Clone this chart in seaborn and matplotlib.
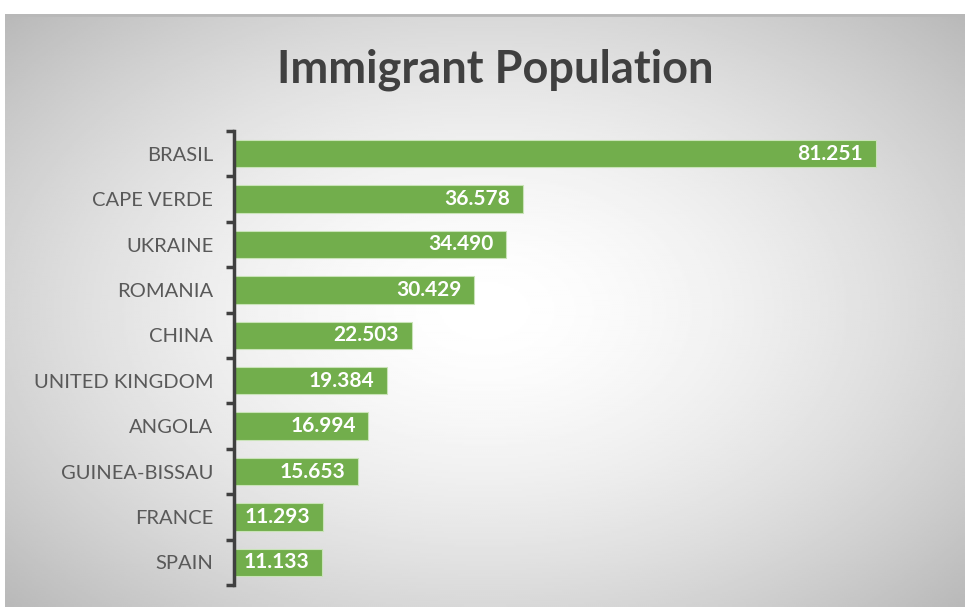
import numpy as np
import matplotlib
matplotlib.use("Agg")
import matplotlib.pyplot as plt
import seaborn as sns

# data
countries = ["BRASIL", "CAPE VERDE", "UKRAINE", "ROMANIA", "CHINA",
             "UNITED KINGDOM", "ANGOLA", "GUINEA-BISSAU", "FRANCE", "SPAIN"]
population = [81251, 36578, 34490, 30429, 22503, 19384, 16994, 15653, 11293, 11133]

sns.set_style("white")
plt.rcParams['font.family'] = ['Lato', 'DejaVu Sans']

W, H = 965, 607
fig = plt.figure(figsize=(W / 100, H / 100), dpi=100)
fig.patch.set_facecolor("white")

# radial gradient background of the chart area
bg = fig.add_axes([5 / W, 0, 1 - 5 / W, (H - 14) / H])
yy, xx = np.mgrid[-1:1:300j, -1:1:480j]
r = np.sqrt((xx * 0.95) ** 2 + (yy * 0.9) ** 2)
shade = 1.0 - 0.18 * np.clip(r, 0, 1.4) ** 1.6
bg.imshow(shade, cmap="gray", vmin=0, vmax=1, aspect="auto",
          extent=[0, 1, 0, 1], interpolation="bilinear")
bg.plot([0, 1], [0.998, 0.998], color="#b8b8b8", lw=2)
bg.set_xlim(0, 1)
bg.set_ylim(0, 1)
bg.axis("off")

ax = fig.add_axes([234 / W, (H - 585) / H, 711 / W, 454 / H])
ax.patch.set_alpha(0)

sns.barplot(x=population, y=countries, color="#72AE4C", width=0.6,
            edgecolor="#c9e3b8", linewidth=0.8, saturation=1, ax=ax)

for i, v in enumerate(population):
    ax.text(v - 1600, i, f"{v:,}".replace(",", "."), ha="right", va="center",
            color="white", fontsize=15, fontweight="bold")

ax.set_xlim(0, 90000)
ax.set_ylim(9.5, -0.5)
ax.set_xlabel("")
ax.set_ylabel("")
ax.set_xticks([])
for s in ["top", "right", "bottom"]:
    ax.spines[s].set_visible(False)
ax.spines["left"].set_color("#404040")
ax.spines["left"].set_linewidth(2.5)
ax.set_yticks(np.arange(-0.5, 10, 1), minor=True)
ax.tick_params(axis="y", which="major", left=False, length=0, pad=15,
               labelsize=14.5, labelcolor="#595959")
ax.tick_params(axis="y", which="minor", left=True, length=6, width=2.5,
               color="#404040", direction="out")

fig.text(495 / W, (H - 70) / H, "Immigrant Population", ha="center", va="center",
         fontsize=32.5, fontweight="bold", color="#404040")

fig.savefig("out.png", dpi=100)
